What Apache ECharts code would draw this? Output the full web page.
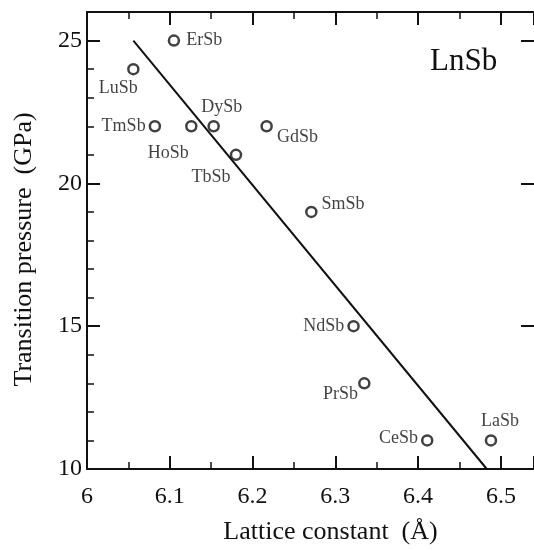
<!DOCTYPE html>
<html>
<head>
<meta charset="utf-8">
<script src="https://cdn.jsdelivr.net/npm/echarts@6/dist/echarts.min.js"></script>
<style>
  html, body { margin: 0; padding: 0; background: #fff; }
  #chart { width: 534px; height: 550px; }
</style>
</head>
<body>
<div id="chart"></div>
<script>
// 数据
const compounds = ['ErSb', 'LuSb', 'TmSb', 'HoSb', 'DySb', 'TbSb', 'GdSb', 'SmSb', 'NdSb', 'PrSb', 'CeSb', 'LaSb']
const latticeA = [6.105, 6.056, 6.082, 6.126, 6.153, 6.180, 6.217, 6.271, 6.322, 6.335, 6.411, 6.488]
const pressure = [25, 24, 22, 22, 22, 21, 22, 19, 15, 13, 11, 11]
const fitX = [6.056, 6.483]
const fitY = [25, 10]

// label placement per compound
const labelPos = {
  ErSb: { position: 'right', offset: [2, 0] },
  LuSb: { position: 'bottom', offset: [-15, 0] },
  TmSb: { position: 'left', offset: [1, 0] },
  HoSb: { position: 'bottom', offset: [-23, 8] },
  DySb: { position: 'top', offset: [8, 0] },
  TbSb: { position: 'bottom', offset: [-25, 3] },
  GdSb: { position: 'right', offset: [0, 11] },
  SmSb: { position: 'right', offset: [0, -8] },
  NdSb: { position: 'left', offset: [1, 0] },
  PrSb: { position: 'left', offset: [4, 11] },
  CeSb: { position: 'left', offset: [1, -2] },
  LaSb: { position: 'top', offset: [9, 0] }
}

const serif = 'Liberation Serif, Times New Roman, serif'

const myChart = echarts.init(document.getElementById('chart'))
const points = compounds.map((name, i) => ({
  name: name,
  value: [latticeA[i], pressure[i]],
  label: labelPos[name]
}))

const axisCommon = {
  type: 'value',
  axisLine: { lineStyle: { color: '#111', width: 2 } },
  axisTick: { inside: true, length: 13, lineStyle: { color: '#111', width: 2 } },
  minorTick: { show: true, length: 7, lineStyle: { color: '#111', width: 1.5 } },
  splitLine: { show: false }
}

const option = {
  animation: false,
  grid: { left: 87, top: 12, right: 0, bottom: 79 },
  xAxis: [
    Object.assign({}, axisCommon, {
      min: 6, max: 6.54, interval: 0.1,
      minorTick: Object.assign({}, axisCommon.minorTick, { splitNumber: 2 }),
      name: 'Lattice constant  (Å)',
      nameLocation: 'middle',
      nameGap: 50,
      nameTextStyle: { fontFamily: serif, fontSize: 26, color: '#111', padding: [0, 0, 0, 40] },
      axisLabel: { fontFamily: serif, fontSize: 24, color: '#111', margin: 16, showMaxLabel: false }
    }),
    Object.assign({}, axisCommon, {
      position: 'top',
      min: 6, max: 6.54, interval: 0.1,
      minorTick: Object.assign({}, axisCommon.minorTick, { splitNumber: 2 }),
      axisLabel: { show: false }
    })
  ],
  yAxis: [
    Object.assign({}, axisCommon, {
      min: 10, max: 26, interval: 5,
      minorTick: Object.assign({}, axisCommon.minorTick, { splitNumber: 5 }),
      name: 'Transition pressure  (GPa)',
      nameLocation: 'middle',
      nameGap: 50,
      nameTextStyle: { fontFamily: serif, fontSize: 26, color: '#111', padding: [0, 18, 0, 0] },
      axisLabel: { fontFamily: serif, fontSize: 24, color: '#111', margin: 5, showMaxLabel: false }
    }),
    Object.assign({}, axisCommon, {
      position: 'right',
      min: 10, max: 26, interval: 5,
      axisLine: { show: false },
      minorTick: { show: false },
      axisLabel: { show: false }
    })
  ],
  graphic: [
    {
      type: 'text',
      left: 430,
      top: 46,
      style: { text: 'LnSb', font: '31px ' + serif, fill: '#111' }
    }
  ],
  series: [
    {
      type: 'line',
      data: fitX.map((x, i) => [x, fitY[i]]),
      showSymbol: false,
      lineStyle: { color: '#111', width: 2 },
      silent: true
    },
    {
      type: 'scatter',
      data: points,
      symbol: 'circle',
      symbolSize: 10,
      itemStyle: { color: '#fff', borderColor: '#111', borderWidth: 2.5 },
      label: {
        show: true,
        formatter: '{b}',
        fontFamily: serif,
        fontSize: 18,
        color: '#111',
        distance: 4
      },
      z: 3
    }
  ]
}
myChart.setOption(option)
window.addEventListener('resize', () => {
  myChart.resize()
})
</script>
</body>
</html>
